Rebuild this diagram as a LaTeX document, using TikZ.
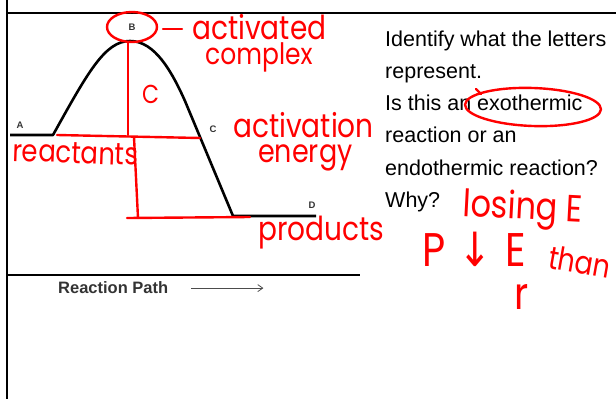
\documentclass[tikz,border=0pt]{standalone}
\usepackage{graphicx}
\usepackage{fontspec}
\setmainfont{Liberation Sans}
\newfontfamily\handfont{Poppins}
\newfontfamily\symfont{DejaVu Sans}
\usetikzlibrary{arrows.meta,positioning}
\newcommand{\tall}[1]{\scalebox{1}[1.18]{#1}}

\begin{document}
\begin{tikzpicture}[x=1pt,y=-1pt,
  axisline/.style={line width=2.6pt},
  pathline/.style={line width=2.6pt,line join=round},
  redline/.style={draw=red,line width=2.4pt,line cap=round,line join=round},
  letter/.style={font=\bfseries\fontsize{9.5}{9.5}\selectfont,text=black!80,inner sep=0pt},
  hand/.style={text=red,font=\handfont\fontsize{#1}{#1}\selectfont,inner sep=0pt,anchor=base west},
  qline/.style={font=\fontsize{21.5}{25}\selectfont,inner sep=0pt,anchor=base west}]
\useasboundingbox (0,0) rectangle (616,399);
% frame and axes
\draw[axisline] (7,0) -- (7,399);
\draw[line width=2pt] (7,13) -- (616,13);
\draw[axisline] (7,275) -- (360,275);
\node[font=\bfseries\fontsize{16.5}{16.5}\selectfont,text=black!80,inner sep=0pt,anchor=base west] (rpath) at (58,293) {Reaction Path};
\draw[black!70,line width=0.8pt,-{Straight Barb[length=5pt,width=7pt]}] ([xshift=23pt,yshift=-1pt]rpath.east) -- ++(72,0);
% energy curve
\coordinate (startA) at (10,135);
\coordinate (foot) at (53,135);
\coordinate (peak) at (130,41);
\coordinate (knee) at (185,101);
\coordinate (low) at (233,216);
\coordinate (endD) at (316,216);
\draw[pathline] (startA) -- (foot) .. controls (88,72) and (105,41) .. (peak)
  .. controls (155,41) and (172,72) .. (knee) -- (low) -- (endD);
\node[letter] (A) at (20,125) {A};
\node[letter] (B) at (132,27) {B};
\node[letter] (C) at (213,129) {C};
\node[letter] (D) at (312,205) {D};
% question
\foreach \txt [count=\i] in {Identify what the letters,represent.,Is this an exothermic,reaction or an,endothermic reaction?,Why?}
  \node[qline] (q\i) at (385,{46+32.3*(\i-1)}) {\txt};
% red marks
\draw[redline] (B) ellipse [x radius=25pt,y radius=15pt];
\draw[redline] (163,29) -- (182,29);
\coordinate (topred) at (128,43);
\coordinate (midred) at (128,135);
\coordinate (leftred) at (57,135);
\coordinate (rightred) at (200,138);
\coordinate (vtwotop) at (134,137);
\coordinate (vtwobot) at (138,218);
\coordinate (lowleft) at (127,218);
\coordinate (lowright) at (250,217);
\draw[redline] (topred) -- (midred);
\draw[redline] (leftred) -- (rightred);
\draw[redline] (vtwotop) -- (vtwobot);
\draw[redline] (lowleft) -- (lowright);
\draw[redline,rotate around={-2:(533,107)}] (533,107) ellipse [x radius=68pt,y radius=19pt];
\draw[redline] (476,89) -- (481,94);
% handwriting
\node[hand=28] (actcx) at (192,39) {\tall{activated}};
\node[hand=25] (cplx) at (205,64) {\tall{complex}};
\node[hand=22] (bigC) at (142,103) {\tall{C}};
\node[hand=26,rotate=-2] (react) at (12,161) {\tall{reactants}};
\node[hand=28] (actv) at (233,137) {\tall{activation}};
\node[hand=27] (enrg) at (258,162) {\tall{energy}};
\node[hand=28] (prod) at (258,240) {\tall{products}};
\node[hand=32,rotate=-3] (losing) at (462,216) {\tall{losing E}};
\node[hand=40] (pdown) at (422,266) {\tall{P\,\,{\symfont ↓}\,\,E}};
\node[hand=27,rotate=-10] (than) at (547,268) {\tall{than}};
\node[hand=38] (rr) at (514,309) {\tall{r}};
\end{tikzpicture}
\end{document}
